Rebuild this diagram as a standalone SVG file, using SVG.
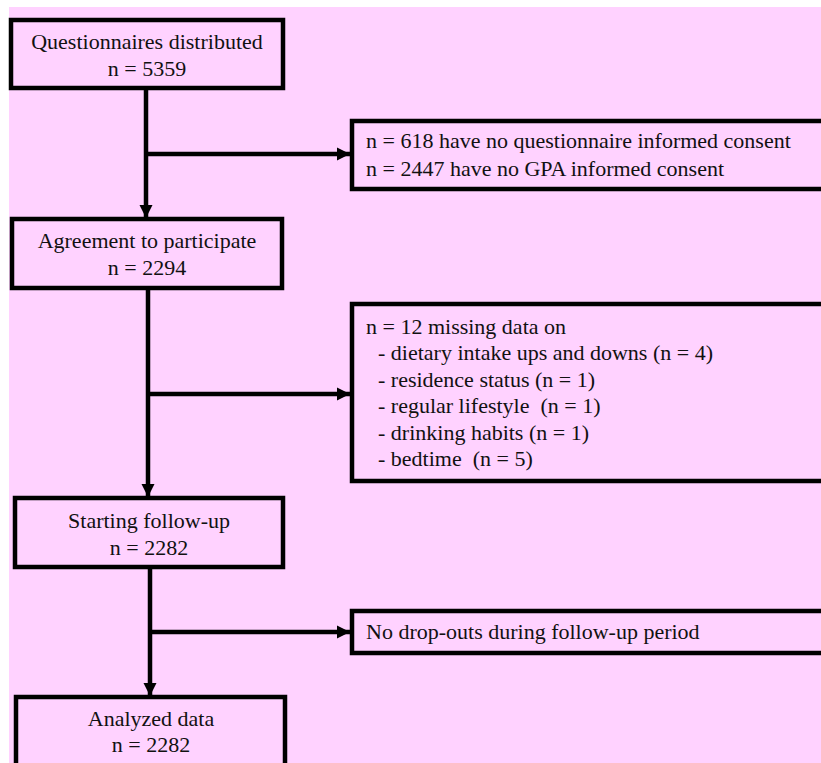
<svg xmlns="http://www.w3.org/2000/svg" width="821" height="763" viewBox="0 0 821 763">
<defs>
<style>
.box{fill:none;stroke:#000;stroke-width:4.5}
.t{font-family:"Liberation Serif","Times New Roman",serif;font-size:22px;fill:#111}
.c{text-anchor:middle}
.ln{fill:none;stroke:#000;stroke-width:4.5}
</style>
<marker id="ah" markerUnits="userSpaceOnUse" markerWidth="14" markerHeight="14" viewBox="0 0 14 14" refX="13" refY="7" orient="auto">
<path d="M0,0.5 L13,7 L0,13.5 Z" fill="#000"/>
</marker>
</defs>
<rect x="0" y="0" width="821" height="763" fill="#fff"/>
<rect x="9" y="7" width="812" height="756" fill="#FFD2FF"/>
<g id="connectors">
<path class="ln" d="M146,88 V218" marker-end="url(#ah)"/>
<path class="ln" d="M146,154 H350" marker-end="url(#ah)"/>
<path class="ln" d="M148,288 V497" marker-end="url(#ah)"/>
<path class="ln" d="M148,394 H350" marker-end="url(#ah)"/>
<path class="ln" d="M150,567 V696" marker-end="url(#ah)"/>
<path class="ln" d="M150,632 H350" marker-end="url(#ah)"/>
</g>
<g id="n1">
<rect class="box" x="11" y="20" width="272" height="68"/>
<text class="t c" x="147" y="49">Questionnaires distributed</text>
<text class="t c" x="147" y="76">n = 5359</text>
</g>
<g id="e1">
<rect class="box" x="352" y="121" width="480" height="68"/>
<text class="t" x="366" y="148">n = 618 have no questionnaire informed consent</text>
<text class="t" x="366" y="176">n = 2447 have no GPA informed consent</text>
</g>
<g id="n2">
<rect class="box" x="12" y="219" width="270" height="69"/>
<text class="t c" x="147" y="248">Agreement to participate</text>
<text class="t c" x="147" y="275">n = 2294</text>
</g>
<g id="e2">
<rect class="box" x="352" y="304" width="480" height="177"/>
<text class="t" x="366" y="334">n = 12 missing data on</text>
<text class="t" x="378" y="360">- dietary intake ups and downs (n = 4)</text>
<text class="t" x="378" y="387">- residence status (n = 1)</text>
<text class="t" x="378" y="413" style="white-space:pre">- regular lifestyle  (n = 1)</text>
<text class="t" x="378" y="440">- drinking habits (n = 1)</text>
<text class="t" x="378" y="466" style="white-space:pre">- bedtime  (n = 5)</text>
</g>
<g id="n3">
<rect class="box" x="15" y="498" width="268" height="69"/>
<text class="t c" x="149" y="528">Starting follow-up</text>
<text class="t c" x="149" y="555">n = 2282</text>
</g>
<g id="e3">
<rect class="box" x="352" y="611" width="480" height="42"/>
<text class="t" x="366" y="639">No drop-outs during follow-up period</text>
</g>
<g id="n4">
<rect class="box" x="16" y="697" width="269" height="80"/>
<text class="t c" x="151" y="726">Analyzed data</text>
<text class="t c" x="151" y="752">n = 2282</text>
</g>
</svg>
